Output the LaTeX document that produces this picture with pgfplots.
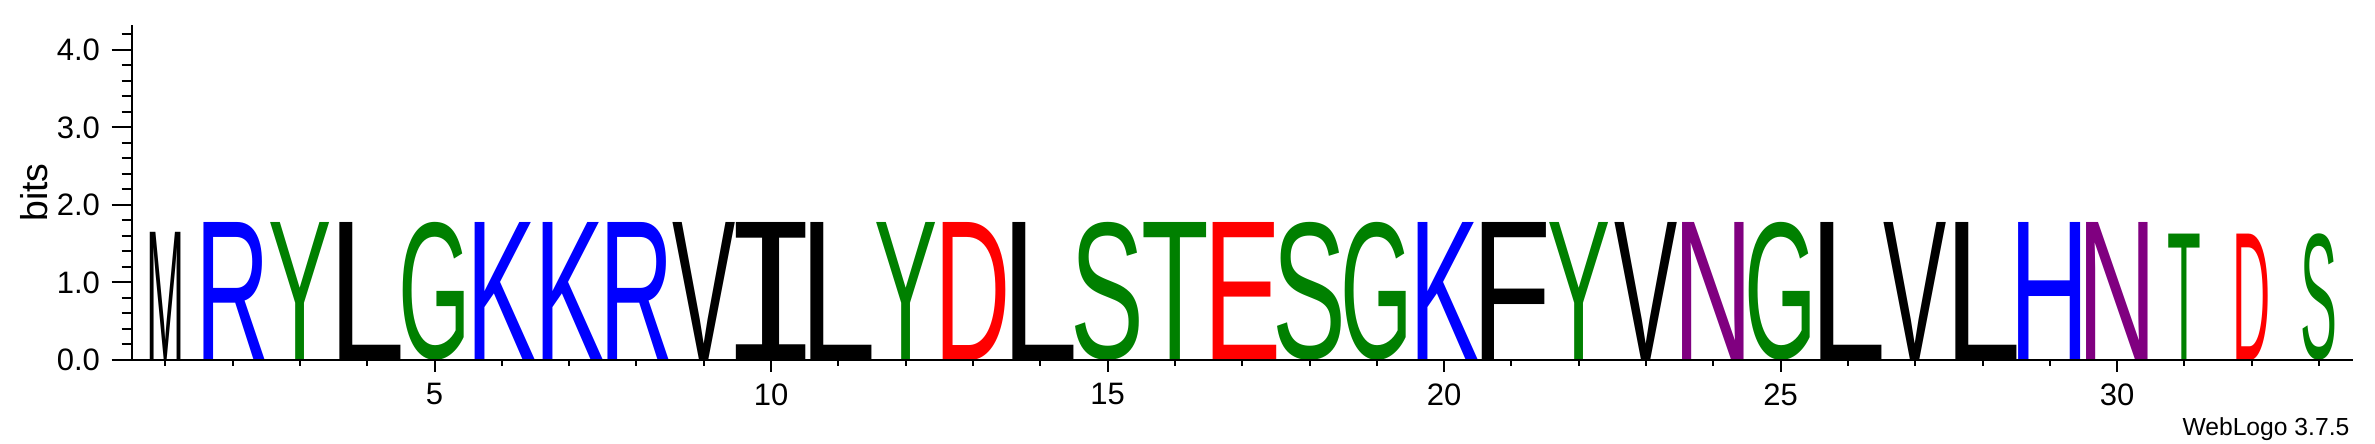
\documentclass[border=0pt]{standalone}
\usepackage{pgfplots}
\pgfplotsset{compat=1.18}
\usepackage{pgfplotstable}
\usepackage{graphicx}
\usepackage{fontspec}
\setmainfont{Liberation Sans}
\newfontfamily\monofont{DejaVu Sans Mono}
\definecolor{wlgreen}{RGB}{0,128,0}
\definecolor{wlblue}{RGB}{0,0,255}
\definecolor{wlred}{RGB}{255,0,0}
\definecolor{wlpurple}{RGB}{128,0,128}

% position, height (bits), relative width, letter, colour
\pgfplotstableread{
x h w l c
1 1.64 0.5 M black
2 1.78 1 R wlblue
3 1.78 1 Y wlgreen
4 1.78 1 L black
5 1.78 1 G wlgreen
6 1.78 1 K wlblue
7 1.78 1 K wlblue
8 1.78 1 R wlblue
9 1.78 1 V black
10 1.78 1 I black
11 1.78 1 L black
12 1.78 1 Y wlgreen
13 1.78 1 D wlred
14 1.78 1 L black
15 1.78 1 S wlgreen
16 1.78 1 T wlgreen
17 1.78 1 E wlred
18 1.78 1 S wlgreen
19 1.78 1 G wlgreen
20 1.78 1 K wlblue
21 1.78 1 F black
22 1.78 1 Y wlgreen
23 1.78 1 V black
24 1.78 1 N wlpurple
25 1.78 1 G wlgreen
26 1.78 1 L black
27 1.78 1 V black
28 1.78 1 L black
29 1.78 1 H wlblue
30 1.78 1 N wlpurple
31 1.63 0.5 T wlgreen
32 1.63 0.5 D wlred
33 1.63 0.5 S wlgreen
}\logodata

% inverse ink fractions of the glyphs (advance width / ink width)
\def\invM{1.22}\def\invR{1.19}\def\invY{1.01}\def\invL{1.23}
\def\invG{1.16}\def\invK{1.12}\def\invV{1.01}\def\invI{1.65}
\def\invD{1.22}\def\invS{1.18}\def\invT{1.08}\def\invE{1.25}
\def\invF{1.28}\def\invN{1.27}\def\invH{1.28}
\newdimen\wlW \newdimen\wlH
\protected\def\glyph#1{\ifcsname glyph#1\endcsname\csname glyph#1\endcsname\else#1\fi}
\protected\def\glyphI{{\monofont I}}

\pgfplotsset{
  logoaxis/.style={
    scale only axis, width=666.3pt, height=100.5pt,
    at={(0,0)}, anchor=south west,
    xmin=0.5, xmax=33.5, ymin=0, ymax=4.32,
    clip=false,
    tick align=outside,
    every tick/.append style={black, line width=0.6pt},
    axis line style={black, line width=0.6pt},
    ticklabel style={font=\fontsize{9.3}{11}\selectfont},
  }
}

\begin{document}
\begin{tikzpicture}
\useasboundingbox (-39.51pt,-25.2pt) rectangle (672.99pt,108pt);
% letters
\begin{axis}[logoaxis, hide axis]
  \pgfplotsinvokeforeach{0,...,32}{%
    \pgfplotstablegetelem{#1}{x}\of\logodata \edef\cx{\pgfplotsretval}%
    \pgfplotstablegetelem{#1}{l}\of\logodata \edef\cl{\pgfplotsretval}%
    \pgfplotstablegetelem{#1}{c}\of\logodata \edef\cc{\pgfplotsretval}%
    \pgfplotstablegetelem{#1}{h}\of\logodata \wlH=23.264pt \wlH=\pgfplotsretval\wlH
    \pgfplotstablegetelem{#1}{w}\of\logodata \wlW=18.78pt \wlW=\pgfplotsretval\wlW
    \wlW=\csname inv\cl\endcsname\wlW
    \edef\doit{\noexpand\addplot[draw=none, mark=none,
        nodes near coords={\noexpand\textcolor{\cc}{\noexpand\resizebox*{\the\wlW}{\the\wlH}{\noexpand\glyph{\cl}}}},
        every node near coord/.append style={anchor=south, inner sep=0pt, outer sep=0pt}]
        coordinates {(\cx,0)};}%
    \doit
  }
\end{axis}
% y axis
\begin{axis}[logoaxis,
    axis y line*=left, axis x line=none,
    ytick={0,1,2,3,4},
    minor ytick={0.2,0.4,0.6,0.8,1.2,1.4,1.6,1.8,2.2,2.4,2.6,2.8,3.2,3.4,3.6,3.8,4.2},
    yticklabel={\pgfmathprintnumber[fixed,fixed zerofill,precision=1,assume math mode=true]{\tick}},
    major tick length=6pt, minor tick length=3pt,
    ylabel={bits},
    every axis y label/.style={at={(axis description cs:-0.0381,0.5)}, rotate=90, anchor=base, inner sep=0pt, font=\fontsize{11.2}{13}\selectfont},
  ]
\end{axis}
% x axis
\begin{axis}[logoaxis,
    axis x line*=bottom, axis y line=none,
    xtick={5,10,15,20,25,30},
    minor xtick={1,2,...,33},
    xticklabel={\pgfmathprintnumber[assume math mode=true]{\tick}},
    major tick length=3.5pt, minor tick length=1.7pt,
  ]
  \node[anchor=base east, inner sep=0pt, font=\fontsize{7.4}{9}\selectfont]
    at (axis description cs:0.9988,-0.2259) {WebLogo 3.7.5};
\end{axis}
\end{tikzpicture}
\end{document}
